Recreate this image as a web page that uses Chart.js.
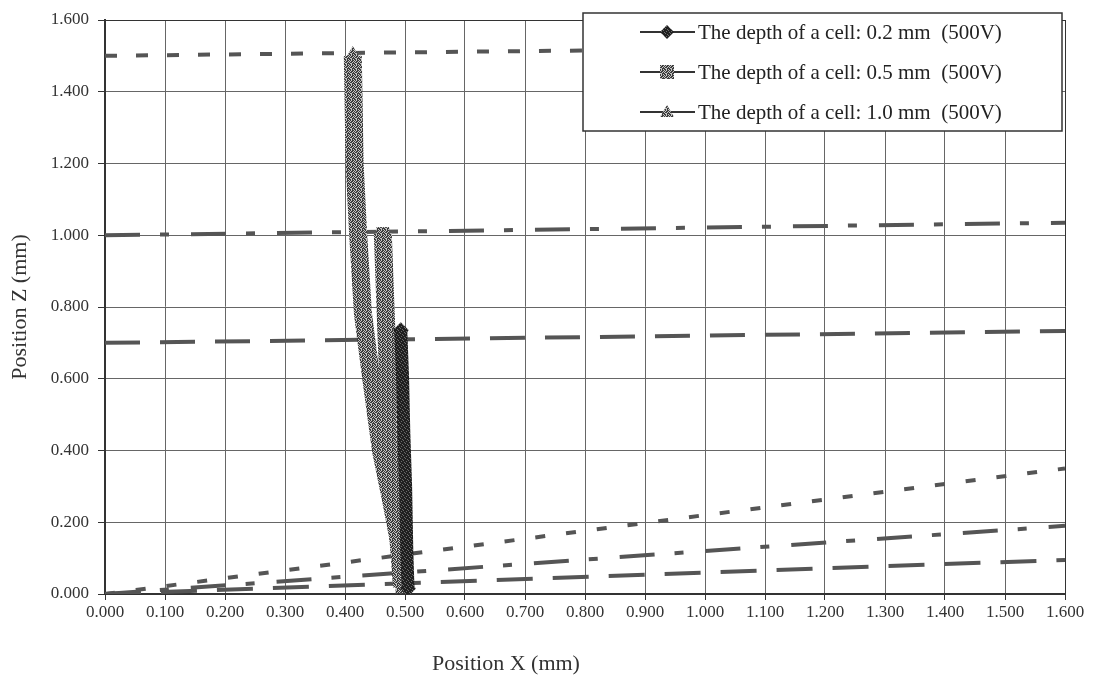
<!DOCTYPE html>
<html>
<head>
<meta charset="utf-8">
<title>Position X / Position Z</title>
<script src="https://cdn.jsdelivr.net/npm/chart.js@4.4.1/dist/chart.umd.min.js"></script>
<style>
    html, body { margin: 0; padding: 0; background: #fff; }
    #wrap { width: 1097px; height: 682px; }
</style>
</head>
<body>
<div id="wrap"><canvas id="trajChart" width="1097" height="682"></canvas></div>
<script>
// cell trajectories (x, z in mm)
const depth02X = [0.493, 0.496, 0.498, 0.501, 0.503, 0.505];
const depth02Z = [0.735, 0.600, 0.450, 0.300, 0.120, 0.015];

const depth05X = [0.463, 0.467, 0.472, 0.480, 0.487, 0.495];
const depth05Z = [1.005, 0.820, 0.600, 0.400, 0.200, 0.020];

const depth10X = [0.413, 0.416, 0.422, 0.430, 0.443, 0.460, 0.477, 0.493, 0.498];
const depth10Z = [1.500, 1.200, 1.000, 0.780, 0.610, 0.400, 0.260, 0.120, 0.020];

// dashed reference lines (no legend entry)
const plane15X = [0.000, 0.400, 0.800];
const plane15Z = [1.500, 1.508, 1.515];
const plane10X = [0.000, 0.800, 1.600];
const plane10Z = [1.000, 1.017, 1.035];
const plane07X = [0.000, 0.800, 1.600];
const plane07Z = [0.700, 0.716, 0.733];

const slopeAX = [0.000, 1.000, 1.600];
const slopeAZ = [0.000, 0.220, 0.350];
const slopeBX = [0.000, 1.000, 1.600];
const slopeBZ = [0.000, 0.120, 0.190];
const slopeCX = [0.000, 1.000, 1.600];
const slopeCZ = [0.000, 0.060, 0.095];

const seriesLabels = [
    'The depth of a cell: 0.2 mm  (500V)',
    'The depth of a cell: 0.5 mm  (500V)',
    'The depth of a cell: 1.0 mm  (500V)'
];

const xTickValues = [0, 0.1, 0.2, 0.3, 0.4, 0.5, 0.6, 0.7, 0.8, 0.9, 1.0, 1.1, 1.2, 1.3, 1.4, 1.5, 1.6];
const yTickValues = [0, 0.2, 0.4, 0.6, 0.8, 1.0, 1.2, 1.4, 1.6];

const serif = '"Liberation Serif", "Times New Roman", serif';
Chart.defaults.font.family = serif;
Chart.defaults.color = '#333';

function pts(xs, zs) {
    return xs.map((x, i) => ({ x: x, y: zs[i] }));
}

// fixed speckle texture, like the photocopied marker bands
function speckle(dark, light, rows) {
    const n = rows.length;
    const c = document.createElement('canvas');
    c.width = n; c.height = n;
    const g = c.getContext('2d');
    rows.forEach((row, y) => {
        for (let x = 0; x < n; x++) {
            g.fillStyle = row[x] === '1' ? dark : light;
            g.fillRect(x, y, 1, 1);
        }
    });
    return g.createPattern(c, 'repeat');
}

const ctx = document.getElementById('trajChart').getContext('2d');
const darkFill = speckle('#202020', '#6a6a6a', ['11101', '10111', '11110', '01111', '11011']);
const grayFill = speckle('#3c3c3c', '#c4c4c4', ['10110', '01101', '11010', '00111', '10101']);

function endsOnly(r) {
    return c => (c.dataIndex === 0 || c.dataIndex === c.dataset.data.length - 1) ? r : 0;
}

function band(label, data, fill, width, style, r) {
    return {
        label: label,
        data: data,
        borderColor: fill,
        backgroundColor: fill,
        pointBackgroundColor: fill,
        borderWidth: width,
        pointStyle: style,
        pointRadius: endsOnly(r),
        pointBorderWidth: 0,
        showLine: true,
        fill: false,
        tension: 0
    };
}

function dashed(data, dash) {
    return {
        data: data,
        borderColor: '#555',
        borderWidth: 4,
        borderDash: dash,
        pointRadius: 0,
        showLine: true,
        fill: false
    };
}

function drawMarker(g, style, x, y, r, fill) {
    g.fillStyle = fill;
    g.beginPath();
    if (style === 'rectRot') {
        g.moveTo(x, y - r); g.lineTo(x + r, y); g.lineTo(x, y + r); g.lineTo(x - r, y);
    } else if (style === 'rect') {
        g.rect(x - r, y - r, 2 * r, 2 * r);
    } else {
        g.moveTo(x, y - r); g.lineTo(x + r, y + r * 0.7); g.lineTo(x - r, y + r * 0.7);
    }
    g.closePath();
    g.fill();
}

const boxLegend = {
    id: 'boxLegend',
    afterDraw(chart) {
        const g = chart.ctx;
        const x0 = 583, y0 = 13, w = 479, h = 118;
        g.save();
        g.fillStyle = '#fff';
        g.fillRect(x0, y0, w, h);
        g.strokeStyle = '#333';
        g.lineWidth = 1.5;
        g.strokeRect(x0, y0, w, h);
        g.font = '21px ' + serif;
        g.textBaseline = 'middle';
        chart.data.datasets.slice(0, 3).forEach((ds, i) => {
            const cy = y0 + 19 + i * 40;
            g.strokeStyle = '#333';
            g.lineWidth = 2;
            g.beginPath();
            g.moveTo(x0 + 57, cy);
            g.lineTo(x0 + 112, cy);
            g.stroke();
            drawMarker(g, ds.pointStyle, x0 + 84, cy, 7, ds.pointBackgroundColor);
            g.fillStyle = '#222';
            g.fillText(ds.label, x0 + 115, cy + 1);
        });
        g.restore();
    }
};

const xTitle = {
    id: 'xTitle',
    afterDraw(chart) {
        const g = chart.ctx;
        g.save();
        g.font = '22px ' + serif;
        g.fillStyle = '#333';
        g.textAlign = 'center';
        g.textBaseline = 'middle';
        g.fillText('Position X (mm)', 506, 664);
        g.restore();
    }
};

const gridColor = c => (c.tick && (c.tick.value === 1.6)) ? '#333' : '#666';

new Chart(ctx, {
    type: 'scatter',
    data: {
        datasets: [
            band(seriesLabels[0], pts(depth02X, depth02Z), darkFill, 13, 'rectRot', 8),
            band(seriesLabels[1], pts(depth05X, depth05Z), grayFill, 18, 'rect', 9),
            band(seriesLabels[2], pts(depth10X, depth10Z), grayFill, 18, 'triangle', 10),
            dashed(pts(plane15X, plane15Z), [12, 19]),
            dashed(pts(plane10X, plane10Z), [35, 20, 9, 22]),
            dashed(pts(plane07X, plane07Z), [35, 20]),
            dashed(pts(slopeAX, slopeAZ), [10, 21]),
            dashed(pts(slopeBX, slopeBZ), [35, 20, 9, 22]),
            dashed(pts(slopeCX, slopeCZ), [36, 20])
        ]
    },
    options: {
        responsive: false,
        animation: false,
        events: [],
        layout: { padding: { top: 20, right: 32, left: 0, bottom: 0 } },
        plugins: {
            legend: { display: false },
            tooltip: { enabled: false }
        },
        scales: {
            x: {
                type: 'linear',
                min: 0,
                max: 1.6,
                afterBuildTicks: s => { s.ticks = xTickValues.map(v => ({ value: v })); },
                afterFit: s => { s.height = 88; },
                ticks: {
                    font: { size: 17 },
                    padding: 2,
                    maxRotation: 0,
                    callback: v => Number(v).toFixed(3)
                },
                grid: { color: gridColor, lineWidth: 1, tickLength: 6, tickColor: '#333' },
                border: { color: '#333', width: 2 }
            },
            y: {
                type: 'linear',
                min: 0,
                max: 1.6,
                afterBuildTicks: s => { s.ticks = yTickValues.map(v => ({ value: v })); },
                afterFit: s => { s.width = 105; },
                ticks: {
                    font: { size: 17 },
                    padding: 9,
                    callback: v => Number(v).toFixed(3)
                },
                title: {
                    display: true,
                    text: 'Position Z (mm)',
                    font: { size: 22 },
                    padding: { top: 7, bottom: 0 }
                },
                grid: { color: gridColor, lineWidth: 1, tickLength: 7, tickColor: '#333' },
                border: { color: '#333', width: 2 }
            }
        }
    },
    plugins: [boxLegend, xTitle]
});
</script>
</body>
</html>
